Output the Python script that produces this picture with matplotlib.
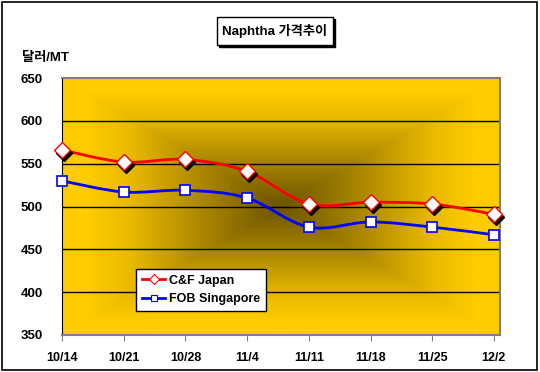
import numpy as np
import matplotlib
matplotlib.use("Agg")
import matplotlib.pyplot as plt
from matplotlib.path import Path
from matplotlib.patches import PathPatch, Rectangle
from matplotlib.colors import LinearSegmentedColormap
import matplotlib.transforms as mtrans

plt.rcParams['font.family'] = ['Liberation Sans', 'Noto Sans CJK KR', 'DejaVu Sans']
plt.rcParams['font.weight'] = 'bold'

dates = ['10/14', '10/21', '10/28', '11/4', '11/11', '11/18', '11/25', '12/2']
cf_japan = [566, 552, 555, 541, 503, 505, 503, 491]
fob_singapore = [530, 517, 519, 510, 476, 482, 476, 467]
yticks = [350, 400, 450, 500, 550, 600, 650]

fig = plt.figure(figsize=(5.4, 3.72), dpi=100)
fig.patch.set_facecolor('white')
fig.add_artist(Rectangle((0.004, 0.006), 0.991, 0.988, transform=fig.transFigure,
                         fill=False, edgecolor='black', lw=1.2))

ax = fig.add_axes([0.115, 0.0995, 0.811, 0.6905])
x = np.arange(len(dates))
ax.set_xlim(0, 7.1)
ax.set_ylim(350, 650)

# rectangular gradient background
n = 200
gx = np.linspace(-1, 1, n)
X, Y = np.meshgrid(gx, gx)
D = np.maximum(np.abs(X), np.abs(Y))
D = np.clip(D, 0, 1)
cmap = LinearSegmentedColormap.from_list('g', [
    (0.0, (0.42, 0.33, 0.0)),
    (0.35, (0.66, 0.52, 0.0)),
    (0.7, (0.92, 0.73, 0.0)),
    (0.9, (1.0, 0.80, 0.0)),
    (1.0, (1.0, 0.80, 0.0))])
ax.imshow(D, extent=[0, 7.1, 350, 650], aspect='auto', cmap=cmap, zorder=0,
          interpolation='bilinear', origin='lower', vmin=0, vmax=1)

for yv in yticks[1:-1]:
    ax.axhline(yv, color='black', lw=1, zorder=1)

def smooth_path(xs, ys):
    xs = np.asarray(xs, float); ys = np.asarray(ys, float)
    verts = [(xs[0], ys[0])]
    codes = [Path.MOVETO]
    t = 1/6
    for i in range(len(xs) - 1):
        x0, y0 = (xs[i-1], ys[i-1]) if i > 0 else (xs[i], ys[i])
        x3, y3 = (xs[i+2], ys[i+2]) if i + 2 < len(xs) else (xs[i+1], ys[i+1])
        c1 = (xs[i] + (xs[i+1] - x0) * t, ys[i] + (ys[i+1] - y0) * t)
        c2 = (xs[i+1] - (x3 - xs[i]) * t, ys[i+1] - (y3 - ys[i]) * t)
        verts += [c1, c2, (xs[i+1], ys[i+1])]
        codes += [Path.CURVE4] * 3
    return Path(verts, codes)

ax.add_patch(PathPatch(smooth_path(x, cf_japan), fill=False, edgecolor='#FF0000', lw=2, zorder=3))
ax.add_patch(PathPatch(smooth_path(x, fob_singapore), fill=False, edgecolor='#0000FF', lw=2, zorder=3))

shadow = mtrans.offset_copy(ax.transData, fig=fig, x=2, y=-3, units='dots')
ax.plot(x, cf_japan, linestyle='none', marker='D', ms=8, mfc='black', mec='black', transform=shadow, zorder=4, clip_on=False)
ax.plot(x, cf_japan, linestyle='none', marker='D', ms=8, mfc='white', mec='#FF0000', mew=1, zorder=5, clip_on=False)
ax.plot(x, fob_singapore, linestyle='none', marker='s', ms=7, mfc='white', mec='#0000FF', mew=1.2, zorder=5, clip_on=False)

# legend proxies
l1, = ax.plot([], [], color='#FF0000', lw=2, marker='D', ms=5, mfc='white', mec='#FF0000', mew=0.8)
l2, = ax.plot([], [], color='#0000FF', lw=2, marker='s', ms=5, mfc='white', mec='#0000FF', mew=0.8)
leg = ax.legend([l1, l2], ['C&F Japan', 'FOB Singapore'], loc='lower left',
                bbox_to_anchor=(0.169, 0.093), frameon=True, fancybox=False,
                edgecolor='black', framealpha=1, fontsize=9, handlelength=1.9,
                borderpad=0.45, labelspacing=0.55, handletextpad=0.3, borderaxespad=0)
leg.get_frame().set_linewidth(1)
for t in leg.get_texts():
    t.set_fontweight('bold')

ax.set_xticks(x)
ax.set_xticklabels(dates, fontsize=9, fontweight='bold')
ax.set_yticks(yticks)
ax.set_yticklabels([str(v) for v in yticks], fontsize=9.5, fontweight='bold')
ax.tick_params(axis='y', length=0, pad=14)
ax.tick_params(axis='x', length=4, direction='out', color='#808080', pad=8)
ax.spines['left'].set_color('black')
for s in ['top', 'right', 'bottom']:
    ax.spines[s].set_color('#808080')
    ax.spines[s].set_linewidth(1.5)

# title box with shadow
fig.add_artist(Rectangle((219/540, 1 - 47/372), 116/540, 28/372, transform=fig.transFigure,
                         facecolor='black', edgecolor='black', lw=1))
fig.add_artist(Rectangle((217/540, 1 - 45/372), 116/540, 28/372, transform=fig.transFigure,
                         facecolor='white', edgecolor='black', lw=1))
fig.text(275/540, 1 - 31/372, 'Naphtha 가격추이', ha='center', va='center', fontsize=9.5,
         fontweight='bold', family=['Liberation Sans', 'Noto Sans CJK KR'])
fig.text(22/540, 1 - 58/372, '달러/MT', ha='left', va='center', fontsize=9.5,
         fontweight='bold', family=['Liberation Sans', 'Noto Sans CJK KR'])

fig.savefig('out.png', dpi=100)
